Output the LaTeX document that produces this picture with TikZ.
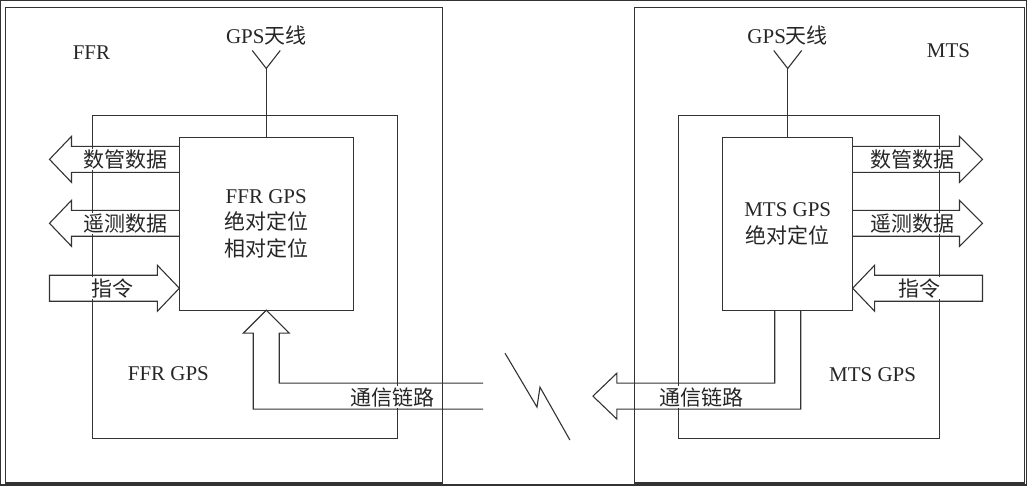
\documentclass[tikz,border=0pt]{standalone}
\usepackage{fontspec}
\setmainfont{Liberation Serif}
\newfontfamily\cjk{Noto Sans CJK SC}
\newcommand\zh[1]{{\cjk #1}}
\begin{document}
\begin{tikzpicture}[x=1pt,y=-1pt,
  line width=1.1pt,
  every path/.style={draw=black!80},
  lbl/.style={font=\fontsize{21}{26.5}\selectfont, text=black!85, inner sep=1pt, align=center},
  wlbl/.style={lbl, fill=white},
  box/.style={draw=black!80, line width=1.1pt, inner sep=0pt, outer sep=0pt, anchor=north west},
  hollow/.style={draw=black!80, line width=1.1pt, line join=miter}]
\useasboundingbox (0,0) rectangle (1027,485);
% ---------- boxes ----------
\node[box, minimum width=437pt, minimum height=476pt] (ffr) at (5,7) {};
\node[box, minimum width=305pt, minimum height=323pt] (ffrmid) at (92,115) {};
\node[box, minimum width=174pt, minimum height=173pt] (ffrin) at (179,137) {};
\node[box, minimum width=390pt, minimum height=476pt] (mts) at (635,7) {};
\node[box, minimum width=261pt, minimum height=323pt] (mtsmid) at (679,115) {};
\node[box, minimum width=130pt, minimum height=173pt] (mtsin) at (723,137) {};
% ---------- antennas ----------
\coordinate (antL) at (266,68);
\coordinate (antR) at (788,68);
\draw[hollow] (antL) -- (antL |- ffrin.north);
\draw[hollow] (252,50) -- (antL) -- (280,50);
\draw[hollow] (antR) -- (antR |- mtsin.north);
\draw[hollow] (774,50) -- (antR) -- (802,50);
\node[lbl] (gpsL) at (266,35) {GPS\zh{天线}};
\node[lbl] (gpsR) at (788,35) {GPS\zh{天线}};
% ---------- left arrows ----------
\draw[hollow] (ffrin.west |- 0,146) -- (71,146) -- (71,136) -- (49,159) -- (71,182) -- (71,172) -- (ffrin.west |- 0,172);
\draw[hollow] (ffrin.west |- 0,210) -- (71,210) -- (71,200) -- (49,223) -- (71,246) -- (71,236) -- (ffrin.west |- 0,236);
\draw[hollow] (157,275) -- (157,265) -- (ffrin.west |- 0,288) -- (157,311) -- (157,301) -- (49,301) -- (49,275) -- cycle;
% ---------- right arrows ----------
\draw[hollow] (mtsin.east |- 0,146) -- (960,146) -- (960,136) -- (983,159) -- (960,182) -- (960,172) -- (mtsin.east |- 0,172);
\draw[hollow] (mtsin.east |- 0,210) -- (960,210) -- (960,200) -- (983,223) -- (960,246) -- (960,236) -- (mtsin.east |- 0,236);
\draw[hollow] (875,275) -- (875,265) -- (mtsin.east |- 0,288) -- (875,311) -- (875,301) -- (983,301) -- (983,275) -- cycle;
% ---------- communication links ----------
\draw[hollow] (483,383) -- (279,383) -- (279,333) -- (289,333) -- (ffrin.south) -- (243,333) -- (253,333) -- (253,409) -- (483,409);
\draw[hollow] (775,0 |- mtsin.south) -- (775,383) -- (617,383) -- (617,373) -- (593,396) -- (617,419) -- (617,409) -- (801,409) -- (801,0 |- mtsin.south);
% lightning
\draw[hollow] (505,353) -- (537,407) -- (540,387) -- (570,440);
% ---------- labels ----------
\node[lbl] (ffrlbl) at (91,52) {FFR};
\node[lbl] (mtslbl) at (949,50) {MTS};
\node[lbl] (ffrgps) at (168,374) {FFR GPS};
\node[lbl] (mtsgps) at (873,375) {MTS GPS};
\node[lbl] (ffrtxt) at (ffrin.center) {FFR GPS\\\zh{绝对定位}\\\zh{相对定位}};
\node[lbl] (mtstxt) at (mtsin.center) {MTS GPS\\\zh{绝对定位}};
\node[wlbl] (l1) at (125,159) {\zh{数管数据}};
\node[wlbl] (l2) at (125,223) {\zh{遥测数据}};
\node[wlbl] (l3) at (112,288) {\zh{指令}};
\node[wlbl] (r1) at (913,159) {\zh{数管数据}};
\node[wlbl] (r2) at (913,223) {\zh{遥测数据}};
\node[wlbl] (r3) at (920,288) {\zh{指令}};
\node[wlbl] (cl) at (392,397) {\zh{通信链路}};
\node[wlbl] (cr) at (702,397) {\zh{通信链路}};
\end{tikzpicture}
\end{document}
